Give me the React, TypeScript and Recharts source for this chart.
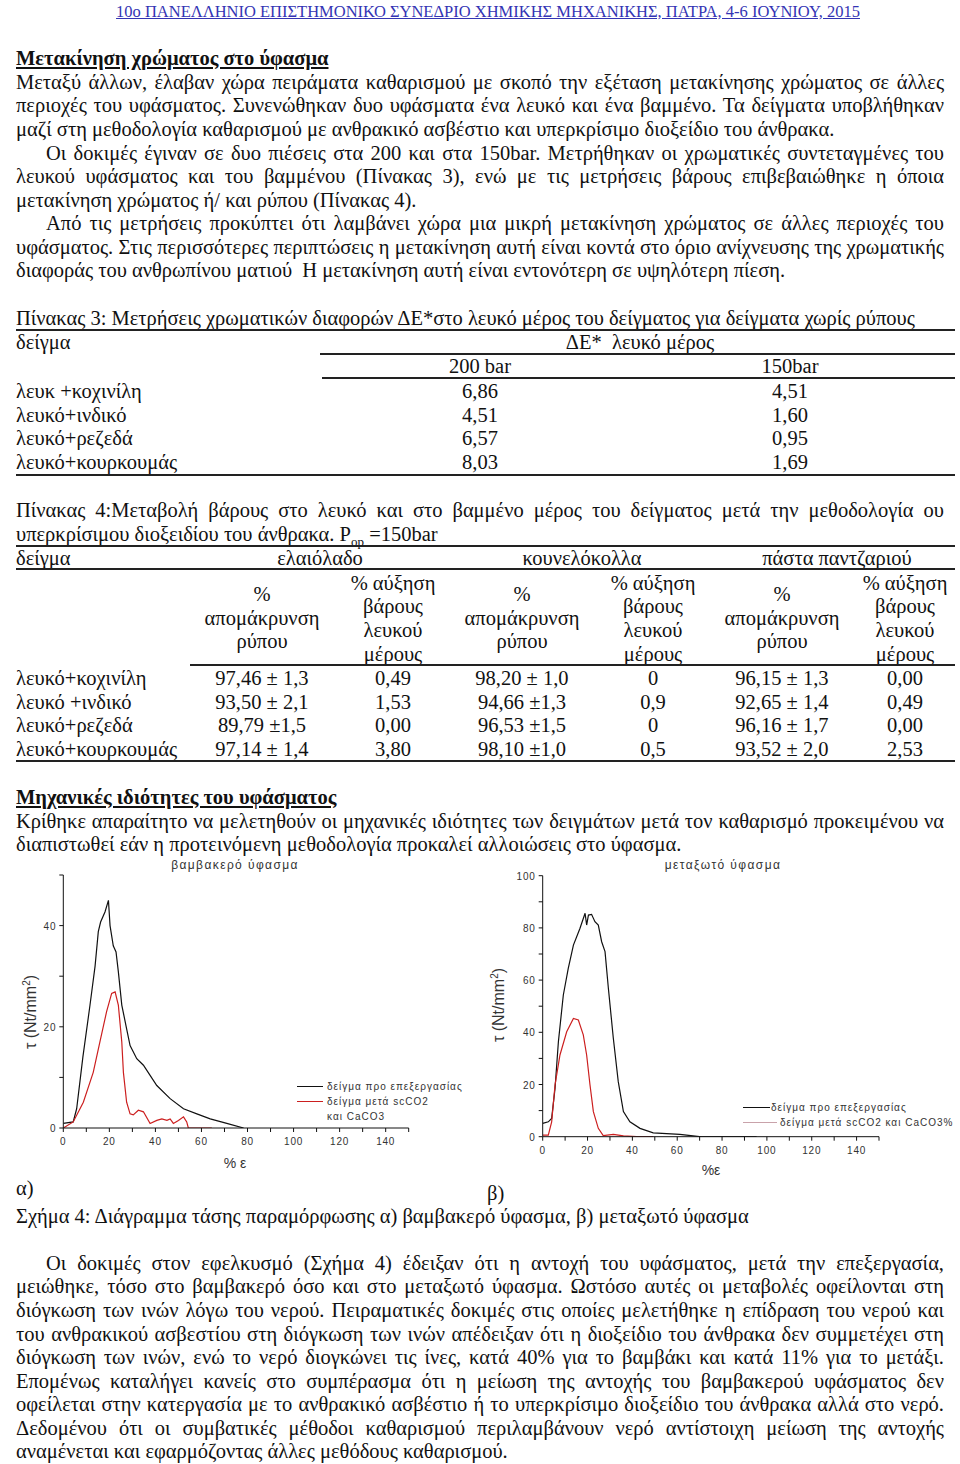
import React from "react";
import { LineChart, Line, XAxis, YAxis, Legend } from "recharts";

const SERIF = '"Liberation Serif", "Times New Roman", serif';
const SANS = '"Liberation Sans", Arial, sans-serif';
const BODY = 20.5;

// --- chart data ---
const cottonBeforeX = [0, 4.3, 5.8, 8.5, 11.6, 13.8, 15.2, 16.2, 18.1, 19.6, 20.3, 21.7, 22.9, 23.9, 25.4, 27.5, 29, 31.9, 34.8, 37.7, 40.6, 46.4, 52.2, 58, 63.8, 71, 78.3];
const cottonBeforeY = [0.9, 1.2, 3.8, 14, 24.3, 32, 38.8, 40.7, 42.7, 45, 40, 36, 34.8, 30.9, 24.3, 19.6, 16.3, 13.7, 12.4, 10.4, 8.4, 5.8, 3.8, 2.8, 1.8, 0.9, 0];
const cottonAfterX = [0, 4.3, 8.7, 13, 15.9, 18.8, 21, 22.5, 23.9, 25.4, 26.1, 27.5, 29, 30.4, 32.6, 34.8, 37.7, 40.6, 42.8, 45, 46.4, 47.8, 50, 52.2, 53.6, 54.3, 64.5];
const cottonAfterY = [0, 1.2, 5.1, 11, 17, 23, 26.6, 26.9, 24.3, 17, 11, 5.1, 2.8, 2.6, 3.5, 3.2, 0.9, 1.5, 1.8, 1.5, 1.8, 0.9, 1.5, 2.2, 1.2, 0, 0];
const silkBeforeX = [0, 2.5, 4, 5.5, 7, 9.2, 11.4, 13.7, 16.6, 18.9, 19.6, 20.4, 21.8, 23.3, 24.8, 26.3, 27.8, 29.3, 31.5, 33.7, 36, 38.9, 43.4, 49.3, 61.2, 70, 95.4];
const silkBeforeY = [5.1, 5.7, 7, 18.5, 36.4, 54.3, 64.5, 73.4, 79.8, 85.6, 81.1, 84.9, 85.2, 82.4, 81.1, 74.7, 70.9, 56.8, 37.7, 21.1, 9.6, 5.7, 3.2, 1.5, 0.9, 0, 0];
const silkAfterX = [0, 2.5, 4, 5.5, 7.7, 10.7, 13.7, 15.9, 18.1, 19.6, 21.1, 22.6, 24.8, 27, 31.5, 36, 41.9, 49.3];
const silkAfterY = [0.6, 0.6, 5.7, 19.8, 31.3, 40.2, 45.3, 44.7, 39, 31.3, 19.8, 9.6, 3.2, 0.4, 0.9, 0.3, 0, 0];

const xTicks = [0, 10, 20, 30, 40, 50, 60, 70, 80, 90, 100, 110, 120, 130, 140, 150];
const cottonYTicks = [0, 10, 20, 30, 40, 50];
const silkYTicks = [0, 10, 20, 30, 40, 50, 60, 70, 80, 90, 100];

// --- table data ---
const t3Rows = ["λευκ +κοχινίλη", "λευκό+ινδικό", "λευκό+ρεζεδά", "λευκό+κουρκουμάς"];
const t3Bar200 = ["6,86", "4,51", "6,57", "8,03"];
const t3Bar150 = ["4,51", "1,60", "0,95", "1,69"];

const t4Rows = ["λευκό+κοχινίλη", "λευκό +ινδικό", "λευκό+ρεζεδά", "λευκό+κουρκουμάς"];
const t4Groups = ["ελαιόλαδο", "κουνελόκολλα", "πάστα παντζαριού"];
const t4Cols = [
  ["97,46 ± 1,3", "93,50 ± 2,1", "89,79 ±1,5", "97,14 ± 1,4"],
  ["0,49", "1,53", "0,00", "3,80"],
  ["98,20 ± 1,0", "94,66 ±1,3", "96,53 ±1,5", "98,10 ±1,0"],
  ["0", "0,9", "0", "0,5"],
  ["96,15 ± 1,3", "92,65 ± 1,4", "96,16 ± 1,7", "93,52 ± 2,0"],
  ["0,00", "0,49", "0,00", "2,53"],
];

const toPoints = (xs: number[], ys: number[]) => xs.map((x, i) => ({ x, y: ys[i] }));

type LineProps = {
  y: number;
  x?: number;
  w?: number;
  j?: boolean;
  style?: React.CSSProperties;
  children: React.ReactNode;
};

// one typeset line, positioned by its vertical centre
const TL = ({ y, x = 16, w = 928, j = false, style, children }: LineProps) => (
  <div
    style={{
      position: "absolute",
      left: x,
      top: y - 12,
      width: w,
      height: 24,
      lineHeight: "24px",
      fontSize: BODY,
      whiteSpace: "nowrap",
      textAlign: j ? "justify" : "left",
      textAlignLast: j ? "justify" : "auto",
      ...style,
    }}
  >
    {children}
  </div>
);

const Cell = ({ cx, y, children }: { cx: number; y: number; children: React.ReactNode }) => (
  <div
    style={{
      position: "absolute",
      left: cx - 110,
      top: y - 12,
      width: 220,
      height: 24,
      lineHeight: "24px",
      fontSize: BODY,
      textAlign: "center",
      whiteSpace: "nowrap",
    }}
  >
    {children}
  </div>
);

const Rule = ({ y, x1 = 16, x2 = 955 }: { y: number; x1?: number; x2?: number }) => (
  <div style={{ position: "absolute", left: x1, top: y - 1, width: x2 - x1, height: 1.5, background: "#222" }} />
);

const xTick = (props: any) => {
  const { x, y, payload } = props;
  if (payload.value % 20 !== 0 || payload.value > 140) return <g />;
  return (
    <text x={x} y={y + 11} textAnchor="middle" fontSize={10} fill="#333" fontFamily={SANS} letterSpacing={0.8}>
      {payload.value}
    </text>
  );
};

const yTick = (props: any) => {
  const { x, y, payload } = props;
  if (payload.value % 20 !== 0) return <g />;
  return (
    <text x={x - 1} y={y + 4} textAnchor="end" fontSize={10} fill="#333" fontFamily={SANS} letterSpacing={0.8}>
      {payload.value}
    </text>
  );
};

type ChartProps = {
  left: number;
  title: string;
  titleX: number;
  xLabel: string;
  xLabelPos: [number, number];
  yLabelPos: [number, number];
  yMax: number;
  yTicks: number[];
  margin: { top: number; right: number; bottom: number; left: number };
  before: { x: number; y: number }[];
  after: { x: number; y: number }[];
  names: [string, string];
  legendRows: { lineX: [number, number]; textX: number; y: number; color: string }[];
};

const StrainChart = (p: ChartProps) => (
  <div style={{ position: "absolute", left: p.left, top: 855, width: 480, height: 330 }}>
    <div
      style={{
        position: "absolute",
        left: p.titleX - 100,
        top: 3,
        width: 200,
        textAlign: "center",
        fontFamily: SANS,
        fontSize: 12,
        letterSpacing: 1.4,
        color: "#333",
      }}
    >
      {p.title}
    </div>
    <LineChart width={480} height={330} margin={p.margin}>
      <XAxis
        type="number"
        dataKey="x"
        domain={[0, 150]}
        ticks={xTicks}
        interval={0}
        tick={xTick}
        tickSize={4}
        height={30}
        axisLine={{ stroke: "#111" }}
        tickLine={{ stroke: "#111" }}
        allowDataOverflow
      />
      <YAxis
        type="number"
        dataKey="y"
        domain={[0, p.yMax]}
        ticks={p.yTicks}
        interval={0}
        tick={yTick}
        tickSize={4}
        width={40}
        axisLine={{ stroke: "#111" }}
        tickLine={{ stroke: "#111" }}
        allowDataOverflow
      />
      <Legend
        layout="vertical"
        align="center"
        verticalAlign="middle"
        wrapperStyle={{ left: 0, top: 0, width: 480, height: 330, pointerEvents: "none" }}
        content={(lp: any) => (
          <div style={{ position: "relative", width: 480, height: 330 }}>
            {(lp.payload || []).map((e: any) => {
              const idx = p.names.indexOf(e.value);
              const r = p.legendRows[idx < 0 ? 0 : idx];
              return (
                <React.Fragment key={e.value}>
                  <div
                    style={{
                      position: "absolute",
                      left: r.lineX[0],
                      top: r.y - 0.5,
                      width: r.lineX[1] - r.lineX[0],
                      height: 1.3,
                      background: r.color,
                    }}
                  />
                  <div
                    style={{
                      position: "absolute",
                      left: r.textX,
                      top: r.y - 7.5,
                      fontFamily: SANS,
                      fontSize: 10,
                      lineHeight: "15px",
                      letterSpacing: 1,
                      color: "#333",
                      whiteSpace: "pre",
                    }}
                  >
                    {e.value}
                  </div>
                </React.Fragment>
              );
            })}
          </div>
        )}
      />
      <Line data={p.before} dataKey="y" name={p.names[0]} type="linear" stroke="#111" strokeWidth={1.2} dot={false} isAnimationActive={false} />
      <Line data={p.after} dataKey="y" name={p.names[1]} type="linear" stroke="#cc1f1f" strokeWidth={1.2} dot={false} isAnimationActive={false} />
    </LineChart>
    <div
      style={{
        position: "absolute",
        left: p.yLabelPos[0] - 60,
        top: p.yLabelPos[1] - 10,
        width: 120,
        height: 20,
        lineHeight: "20px",
        textAlign: "center",
        transform: "rotate(-90deg)",
        fontFamily: SANS,
        fontSize: 16,
        color: "#333",
      }}
    >
      τ (Nt/mm<sup style={{ fontSize: 10 }}>2</sup>)
    </div>
    <div
      style={{
        position: "absolute",
        left: p.xLabelPos[0] - 40,
        top: p.xLabelPos[1] - 10,
        width: 80,
        lineHeight: "20px",
        textAlign: "center",
        fontFamily: SANS,
        fontSize: 14,
        color: "#333",
      }}
    >
      {p.xLabel}
    </div>
  </div>
);

export default function App() {
  const gCols = [262, 393, 522, 653, 782, 905];
  return (
    <div
      style={{
        position: "absolute",
        left: 0,
        top: 0,
        width: 960,
        height: 1464,
        background: "#fff",
        fontFamily: SERIF,
        color: "#111",
        overflow: "hidden",
      }}
    >
      <div
        style={{
          position: "absolute",
          left: 0,
          top: 2,
          width: 960,
          textAlign: "center",
          fontSize: 16.5,
          color: "#3434b4",
          textDecoration: "underline",
          paddingLeft: 16,
          boxSizing: "border-box",
        }}
      >
        10ο ΠΑΝΕΛΛΗΝΙΟ ΕΠΙΣΤΗΜΟΝΙΚΟ ΣΥΝΕΔΡΙΟ ΧΗΜΙΚΗΣ ΜΗΧΑΝΙΚΗΣ, ΠΑΤΡΑ, 4-6 ΙΟΥΝΙΟΥ, 2015
      </div>

      <TL y={58} style={{ fontWeight: "bold", textDecoration: "underline" }}>Μετακίνηση χρώματος στο ύφασμα</TL>
      <TL y={82} j>Μεταξύ άλλων, έλαβαν χώρα πειράματα καθαρισμού με σκοπό την εξέταση μετακίνησης χρώματος σε άλλες</TL>
      <TL y={105} j>περιοχές του υφάσματος. Συνενώθηκαν δυο υφάσματα ένα λευκό και ένα βαμμένο. Τα δείγματα υποβλήθηκαν</TL>
      <TL y={129}>μαζί στη μεθοδολογία καθαρισμού με ανθρακικό ασβέστιο και υπερκρίσιμο διοξείδιο του άνθρακα.</TL>
      <TL y={153} x={46} w={898} j>Οι δοκιμές έγιναν σε δυο πιέσεις στα 200 και στα 150bar. Μετρήθηκαν οι χρωματικές συντεταγμένες του</TL>
      <TL y={176} j>λευκού υφάσματος και του βαμμένου (Πίνακας 3), ενώ με τις μετρήσεις βάρους επιβεβαιώθηκε η όποια</TL>
      <TL y={200}>μετακίνηση χρώματος ή/ και ρύπου (Πίνακας 4).</TL>
      <TL y={223} x={46} w={898} j>Από τις μετρήσεις προκύπτει ότι λαμβάνει χώρα μια μικρή μετακίνηση χρώματος σε άλλες περιοχές του</TL>
      <TL y={247} j>υφάσματος. Στις περισσότερες περιπτώσεις η μετακίνηση αυτή είναι κοντά στο όριο ανίχνευσης της χρωματικής</TL>
      <TL y={270}>διαφοράς του ανθρωπίνου ματιού&nbsp; Η μετακίνηση αυτή είναι εντονότερη σε υψηλότερη πίεση.</TL>

      <TL y={318}>Πίνακας 3: Μετρήσεις χρωματικών διαφορών ΔΕ*στο λευκό μέρος του δείγματος για δείγματα χωρίς ρύπους</TL>
      <Rule y={330} />
      <TL y={342}>δείγμα</TL>
      <Cell cx={640} y={342}>ΔΕ*&nbsp; λευκό μέρος</Cell>
      <Rule y={354} x1={320} />
      <Cell cx={480} y={366}>200 bar</Cell>
      <Cell cx={790} y={366}>150bar</Cell>
      <Rule y={378} x1={322} />
      {t3Rows.map((r, i) => (
        <React.Fragment key={r}>
          <TL y={391 + i * 23.7}>{r}</TL>
          <Cell cx={480} y={391 + i * 23.7}>{t3Bar200[i]}</Cell>
          <Cell cx={790} y={391 + i * 23.7}>{t3Bar150[i]}</Cell>
        </React.Fragment>
      ))}
      <Rule y={475} />

      <TL y={510} j>Πίνακας 4:Μεταβολή βάρους στο λευκό και στο βαμμένο μέρος του δείγματος μετά την μεθοδολογία ου</TL>
      <TL y={534}>
        υπερκρίσιμου διοξειδίου του άνθρακα. P<sub style={{ fontSize: 13 }}>op</sub> =150bar
      </TL>
      <Rule y={546} />
      <TL y={558}>δείγμα</TL>
      <Cell cx={320} y={558}>{t4Groups[0]}</Cell>
      <Cell cx={582} y={558}>{t4Groups[1]}</Cell>
      <Cell cx={837} y={558}>{t4Groups[2]}</Cell>
      <Rule y={569} />
      {[0, 2, 4].map((k) => (
        <React.Fragment key={"a" + k}>
          <Cell cx={gCols[k]} y={594}>%</Cell>
          <Cell cx={gCols[k]} y={618}>απομάκρυνση</Cell>
          <Cell cx={gCols[k]} y={641}>ρύπου</Cell>
        </React.Fragment>
      ))}
      {[1, 3, 5].map((k) => (
        <React.Fragment key={"b" + k}>
          <Cell cx={gCols[k]} y={583}>% αύξηση</Cell>
          <Cell cx={gCols[k]} y={606}>βάρους</Cell>
          <Cell cx={gCols[k]} y={630}>λευκού</Cell>
          <Cell cx={gCols[k]} y={654}>μέρους</Cell>
        </React.Fragment>
      ))}
      <Rule y={665} x1={190} />
      {t4Rows.map((r, i) => (
        <React.Fragment key={r}>
          <TL y={678 + i * 23.5}>{r}</TL>
          {t4Cols.map((col, k) => (
            <Cell key={k} cx={gCols[k]} y={678 + i * 23.5}>
              {col[i]}
            </Cell>
          ))}
        </React.Fragment>
      ))}
      <Rule y={761} />

      <TL y={797} style={{ fontWeight: "bold", textDecoration: "underline" }}>Μηχανικές ιδιότητες του υφάσματος</TL>
      <TL y={821} j>Κρίθηκε απαραίτητο να μελετηθούν οι μηχανικές ιδιότητες των δειγμάτων μετά τον καθαρισμό προκειμένου να</TL>
      <TL y={844}>διαπιστωθεί εάν η προτεινόμενη μεθοδολογία προκαλεί αλλοιώσεις στο ύφασμα.</TL>

      <StrainChart
        left={0}
        title="βαμβακερό ύφασμα"
        titleX={235}
        xLabel="% ε"
        xLabelPos={[235, 308]}
        yLabelPos={[27, 157]}
        yMax={50}
        yTicks={cottonYTicks}
        margin={{ top: 20, right: 71.3, bottom: 27, left: 23.3 }}
        before={toPoints(cottonBeforeX, cottonBeforeY)}
        after={toPoints(cottonAfterX, cottonAfterY)}
        names={["δείγμα προ επεξεργασίας", "δείγμα μετά scCO2\nκαι CaCO3"]}
        legendRows={[
          { lineX: [297, 323], textX: 327, y: 231, color: "#111" },
          { lineX: [297, 323], textX: 327, y: 246, color: "#cc1f1f" },
        ]}
      />
      <StrainChart
        left={480}
        title="μεταξωτό ύφασμα"
        titleX={243}
        xLabel="%ε"
        xLabelPos={[231, 315]}
        yLabelPos={[15, 150]}
        yMax={100}
        yTicks={silkYTicks}
        margin={{ top: 20.7, right: 81, bottom: 18.3, left: 22.7 }}
        before={toPoints(silkBeforeX, silkBeforeY)}
        after={toPoints(silkAfterX, silkAfterY)}
        names={["δείγμα προ επεξεργασίας", "δείγμα μετά scCO2 και CaCO3%"]}
        legendRows={[
          { lineX: [263, 290], textX: 291, y: 252, color: "#111" },
          { lineX: [263, 297], textX: 300, y: 267, color: "#c9a2aa" },
        ]}
      />

      <TL y={1188}>α)</TL>
      <TL y={1193} x={487} w={100}>β)</TL>
      <TL y={1216}>Σχήμα 4: Διάγραμμα τάσης παραμόρφωσης α) βαμβακερό ύφασμα, β) μεταξωτό ύφασμα</TL>

      <TL y={1263} x={46} w={898} j>Οι δοκιμές στον εφελκυσμό (Σχήμα 4) έδειξαν ότι η αντοχή του υφάσματος, μετά την επεξεργασία,</TL>
      <TL y={1286} j>μειώθηκε, τόσο στο βαμβακερό όσο και στο μεταξωτό ύφασμα. Ωστόσο αυτές οι μεταβολές οφείλονται στη</TL>
      <TL y={1310} j>διόγκωση των ινών λόγω του νερού. Πειραματικές δοκιμές στις οποίες μελετήθηκε η επίδραση του νερού και</TL>
      <TL y={1334} j>του ανθρακικού ασβεστίου στη διόγκωση των ινών απέδειξαν ότι η διοξείδιο του άνθρακα δεν συμμετέχει στη</TL>
      <TL y={1357} j>διόγκωση των ινών, ενώ το νερό διογκώνει τις ίνες, κατά 40% για το βαμβάκι και κατά 11% για το μετάξι.</TL>
      <TL y={1381} j>Επομένως καταλήγει κανείς στο συμπέρασμα ότι η μείωση της αντοχής του βαμβακερού υφάσματος δεν</TL>
      <TL y={1404} j>οφείλεται στην κατεργασία με το ανθρακικό ασβέστιο ή το υπερκρίσιμο διοξείδιο του άνθρακα αλλά στο νερό.</TL>
      <TL y={1428} j>Δεδομένου ότι οι συμβατικές μέθοδοι καθαρισμού περιλαμβάνουν νερό αντίστοιχη μείωση της αντοχής</TL>
      <TL y={1451}>αναμένεται και εφαρμόζοντας άλλες μεθόδους καθαρισμού.</TL>
    </div>
  );
}
